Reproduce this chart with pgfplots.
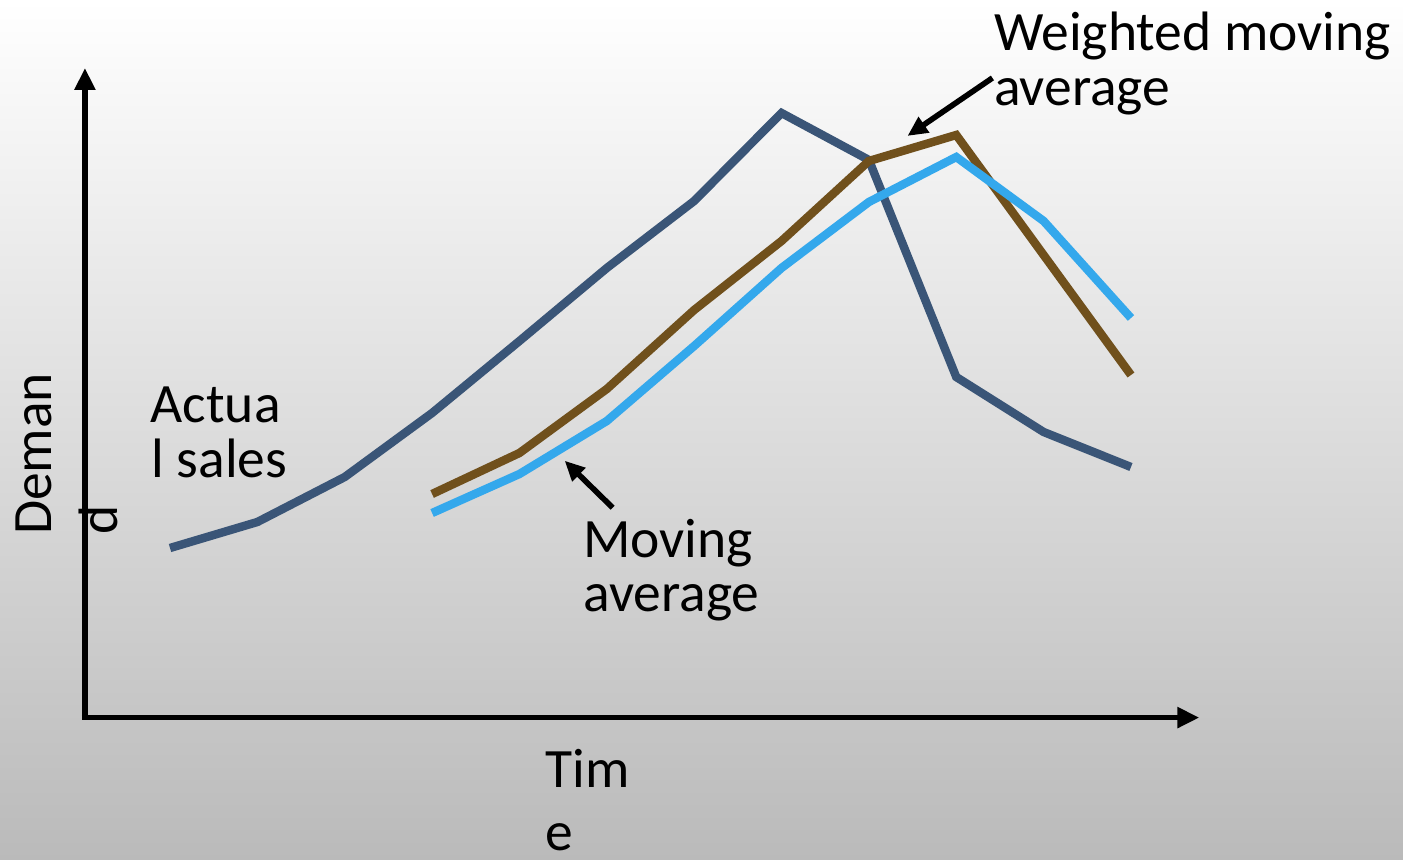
\documentclass[border=0pt]{standalone}
\usepackage{pgfplots}
\pgfplotsset{compat=1.18}
\usepackage{fontspec}
\setmainfont{Carlito}
\usetikzlibrary{arrows.meta}

\definecolor{actualc}{HTML}{3A5577}
\definecolor{movavgc}{HTML}{34A8EC}
\definecolor{wmovavgc}{HTML}{70501C}

\begin{document}
\begin{tikzpicture}
% slide background
\shade[top color=white, bottom color=black!27] (0,0) rectangle (14.03,8.59);

\begin{axis}[
  at={(0,0)}, anchor=south west,
  scale only axis, width=14.03cm, height=8.59cm,
  xmin=-0.946, xmax=15.114, ymin=-14.1, ymax=71.8,
  hide axis, clip=false,
  every axis plot/.append style={line width=2.4pt, no markers},
]
% actual sales, periods 1-12
\addplot[actualc] coordinates {
  (1,17.0) (2,19.6) (3,24.1) (4,30.5) (5,37.7) (6,45.0)
  (7,51.7) (8,60.5) (9,55.8) (10,34.1) (11,28.6) (12,25.1)};
% weighted moving average, periods 4-12
\addplot[wmovavgc] coordinates {
  (4,22.4) (5,26.5) (6,32.9) (7,40.8) (8,47.7) (9,55.7)
  (10,58.3) (11,46.3) (12,34.3)};
% moving average, periods 4-12
\addplot[movavgc] coordinates {
  (4,20.5) (5,24.4) (6,29.7) (7,37.2) (8,45.0) (9,51.6)
  (10,56.1) (11,49.7) (12,40.0)};
\end{axis}

\begin{scope}[x=0.01cm, y=-0.01cm, yshift=8.59cm,
  lbl/.style={anchor=base west, inner sep=0pt, font=\fontsize{15.8}{16}\selectfont}]
  % axes with arrow tips
  \draw[line width=1.6pt, -{Triangle[length=0.22cm, width=0.2cm]}] (82,718) -- (1200,718);
  \draw[line width=1.6pt, -{Triangle[length=0.22cm, width=0.2cm]}] (85,720) -- (85,68);
  % axis titles
  \node[lbl] at (545,788) {Tim};
  \node[lbl] at (545,851) {e};
  \node[lbl, rotate=90] at (52,536) {Deman};
  \node[lbl, rotate=90] at (118,536) {d};
  % series labels
  \node[lbl] at (150,423) {Actua};
  \node[lbl] at (151,478) {l sales};
  \node[lbl] at (583,558) {Moving};
  \node[lbl] at (583,612) {average};
  \node[lbl] at (994,51) {Weighted moving};
  \node[lbl] at (994,106) {average};
  % pointers
  \draw[line width=1.6pt, -{Triangle[length=0.2cm, width=0.18cm]}] (993,78) -- (908,136);
  \draw[line width=1.6pt, -{Triangle[length=0.2cm, width=0.18cm]}] (613,508) -- (565,461);
\end{scope}
\end{tikzpicture}
\end{document}
